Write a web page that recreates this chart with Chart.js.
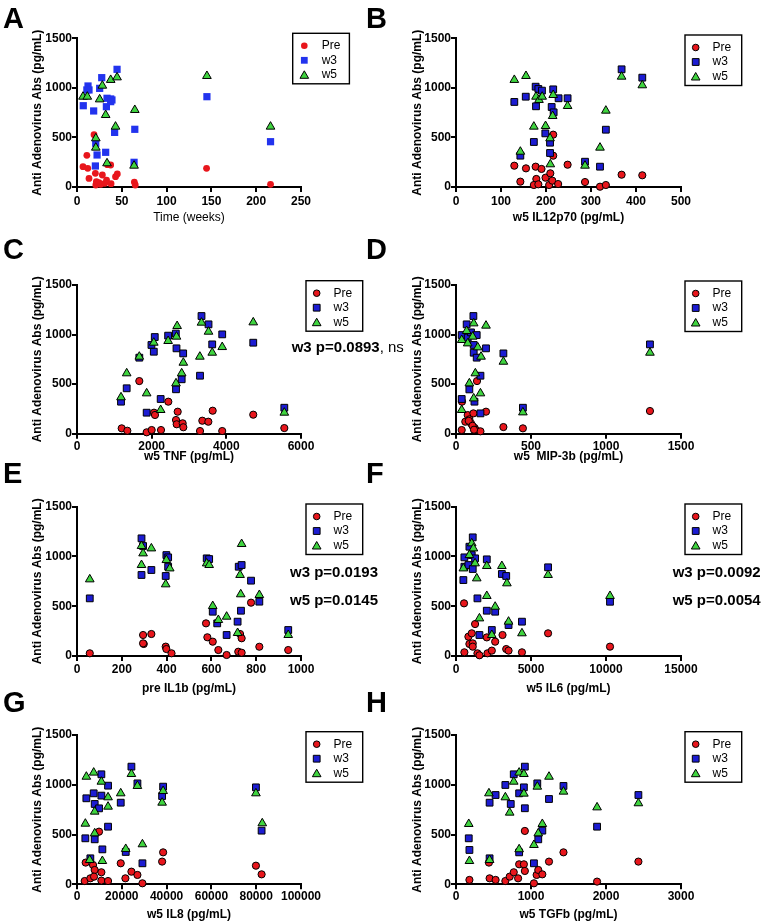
<!DOCTYPE html>
<html>
<head>
<meta charset="utf-8">
<title>Anti Adenovirus Abs</title>
<script src="https://cdn.jsdelivr.net/npm/chart.js@4.4.1/dist/chart.umd.min.js"></script>
<style>
  html, body { margin: 0; padding: 0; background: #fff; }
  body { width: 761px; height: 924px; position: relative; overflow: hidden; font-family: "Liberation Sans", Arial, sans-serif; color: #000; }
  canvas { position: absolute; }
  .letter { position: absolute; font-size: 29px; font-weight: bold; line-height: 29px; }
  .pval { position: absolute; font-size: 15px; font-weight: bold; line-height: 15px; white-space: nowrap; z-index: 2; }
  .pval span { font-weight: normal; }
</style>
</head>
<body>
<div id="fig"></div>
<div class="letter" style="left:3px;top:3.5px">A</div>
<div class="letter" style="left:366px;top:3.5px">B</div>
<div class="letter" style="left:3px;top:234.5px">C</div>
<div class="letter" style="left:366px;top:234.5px">D</div>
<div class="letter" style="left:3px;top:458.5px">E</div>
<div class="letter" style="left:366px;top:458.5px">F</div>
<div class="letter" style="left:3px;top:687.5px">G</div>
<div class="letter" style="left:366px;top:687.5px">H</div>
<div class="pval" style="left:291.7px;top:339.4px">w3 p=0.0893<span>, ns</span></div>
<div class="pval" style="left:290px;top:564.4px">w3 p=0.0193</div>
<div class="pval" style="left:290px;top:591.7px">w5 p=0.0145</div>
<div class="pval" style="left:672.7px;top:564.4px">w3 p=0.0092</div>
<div class="pval" style="left:672.7px;top:591.7px">w5 p=0.0054</div>
<script>
// dane: [x, Anti Adenovirus Abs]
const seriesNames = ['Pre', 'w3', 'w5'];
const yTicks = [0, 500, 1000, 1500];

// A - Time (weeks)
const aPre = [[6.7,205],[11,320],[12,188],[13.4,87],[19,528],[20.5,138],[21,20],[21.6,54],[24.6,44],[26.5,27],[28.3,121],[31,37],[33,70],[34,225],[37.6,222],[38,34],[43,104],[45,131],[64,50],[65,20],[144.6,188],[216,27]];
const aW3 = [[7,820],[11,979],[12.3,1019],[13.4,979],[18.6,767],[20.9,441],[20.5,212],[22.4,323],[25.3,995],[27.6,1103],[32,350],[32.8,810],[33.5,895],[37.6,888],[39,878],[37.6,861],[42,551],[44.7,1187],[64.5,582],[63.7,249],[145,911],[216,457]];
const aW5 = [[6.7,911],[11.5,911],[21,491],[21,397],[25.3,884],[28.3,1022],[32,726],[33.5,239],[37.6,1080],[44.7,1106],[43,609],[64.5,777],[63.7,215],[145,1120],[216,609]];

// B - w5 IL12p70
const bPre = [[129.6,215],[143,54],[155.5,188],[177,205],[178.5,81],[173,20],[183,27],[190,182],[199,94],[209.6,138],[207,20],[214,64],[216,528],[216,316],[227,30],[248,225],[286.7,50],[320,3],[333,20],[368,124],[414,118]];
const bW3 = [[129.6,858],[155,911],[177,1012],[177.8,814],[183,989],[191,972],[216,985],[228,895],[248,895],[212.6,807],[217,753],[173,454],[198.5,541],[209,447],[209,343],[143,316],[286.7,255],[320,205],[333,578],[368,1187],[414,1103]];
const bW5 = [[129.6,1080],[155.5,1120],[173,609],[177.8,911],[184.4,878],[191.5,911],[199,615],[209,491],[209.6,229],[216,928],[214.8,716],[248,817],[286.7,215],[320,397],[333,770],[368,1113],[414,1026],[143,356]];

// C - w5 TNF
const cPre = [[1197,54],[1348,30],[1669,531],[1866,14],[2000,37],[2063,212],[2089,189],[2250,37],[2446,323],[2697,222],[2652,138],[2670,95],[2830,105],[2848,65],[3295,27],[3357,131],[3518,121],[3634,232],[3890,27],[4721,192],[5553,57]];
const cW3 = [[1179,323],[1331,458],[1669,767],[1866,212],[1994,895],[2057,827],[2083,975],[2241,350],[2441,989],[2647,1010],[2665,861],[2652,448],[2804,549],[2844,810],[3295,585],[3335,1187],[3523,1103],[3622,901],[3890,1002],[4721,918],[5553,262]];
const cW5 = [[1179,367],[1331,609],[1669,777],[1866,407],[2057,918],[2241,239],[2441,935],[2682,1086],[2665,979],[2848,716],[2804,609],[2652,508],[3291,777],[3335,1120],[3523,1029],[3622,817],[3890,874],[4721,1123],[5553,212]];

// D - w5 MIP-3b
const dPre = [[38,37],[40,323],[62,121],[78,188],[89,145],[100,104],[116,205],[140,531],[123,60],[134,37],[163,24],[200,222],[316,67],[446,54],[1293,229],[85,130],[110,80],[120,40]];
const dW3 = [[38,350],[38,995],[71,1103],[89,447],[78,969],[116,1187],[100,1022],[118,895],[138,995],[118,817],[138,767],[123,323],[163,585],[163,205],[200,861],[316,810],[446,262],[1293,901]];
const dW5 = [[38,239],[38,945],[71,1036],[89,508],[78,911],[118,1113],[129,609],[118,356],[145,871],[163,407],[167,777],[200,1090],[316,726],[446,215],[1293,817],[111,979]];

// E - pre IL1b
const ePre = [[57,27],[295,211],[298,121],[295,127],[332,221],[396,94],[399,70],[422,27],[576,328],[582,188],[606,144],[631,60],[668,10],[720,43],[728,221],[735,178],[735,33],[777,536],[814,93],[943,60]];
const eW3 = [[57,579],[288,1182],[295,1105],[288,814],[332,864],[399,1014],[407,991],[407,897],[396,804],[579,981],[590,974],[606,445],[626,328],[668,211],[717,345],[722,897],[735,914],[732,455],[777,757],[814,546],[943,261]];
const eW5 = [[57,770],[288,1105],[295,1031],[288,914],[332,1081],[399,964],[396,720],[414,880],[579,930],[590,914],[606,502],[631,362],[668,395],[717,231],[728,814],[735,1125],[731,620],[814,613],[943,211]];

// F - w5 IL6
const fPre = [[536,529],[558,37],[826,194],[893,121],[1049,228],[1116,127],[1116,94],[1272,321],[1429,27],[1562,7],[2053,187],[2098,27],[2388,54],[2611,144],[3102,211],[3348,70],[3504,54],[4397,37],[6138,228],[10267,94]];
const fW3 = [[491,763],[558,897],[558,991],[826,914],[893,1098],[1116,1192],[1049,1014],[1116,874],[1272,981],[1429,579],[1562,211],[2053,971],[2053,455],[2388,261],[2611,445],[3058,824],[3348,804],[3504,311],[4397,345],[6138,891],[10267,545]];
const fW5 = [[491,880],[1049,1132],[1161,1081],[1272,931],[1384,780],[1562,378],[2053,904],[2053,603],[2388,211],[2611,495],[3058,904],[3393,730],[3504,345],[4397,228],[6138,814],[10267,603],[893,1014]];

// G - w5 IL8
const gPre = [[3428,33],[3875,218],[5961,60],[7153,194],[7898,144],[7600,77],[9836,529],[10879,121],[10879,37],[13860,33],[19523,211],[21609,60],[24292,127],[26974,94],[29210,10],[38003,228],[38450,321],[79880,187],[82413,100]];
const gW3 = [[3726,462],[4173,864],[5961,261],[7451,914],[7898,807],[7898,452],[9836,763],[10879,1105],[10879,891],[11326,351],[13860,991],[13860,579],[19523,820],[21757,325],[24292,1182],[26974,1014],[29210,211],[38003,887],[38450,981],[79880,974],[82413,539]];
const gW5 = [[3726,609],[4173,1081],[7451,1122],[7898,730],[7898,512],[10879,1031],[11326,234],[13860,874],[13860,780],[19523,914],[21757,355],[24292,1108],[26974,988],[29210,402],[38003,820],[38450,937],[79880,914],[82711,613],[5663,244]];

// H - w5 TGFb
const hPre = [[179,44],[439,218],[448,60],[528,44],[658,33],[716,77],[770,121],[828,60],[842,201],[905,201],[918,134],[918,536],[1039,10],[1075,94],[1097,144],[1151,100],[1240,228],[1433,321],[1881,27],[2432,228]];
const hW3 = [[170,462],[179,345],[448,820],[448,261],[528,897],[658,998],[730,807],[770,1105],[842,914],[842,321],[905,974],[918,1182],[918,764],[1039,211],[1084,1014],[1097,452],[1151,539],[1240,857],[1433,988],[1881,579],[2432,897]];
const hW5 = [[170,606],[179,234],[439,914],[448,244],[658,874],[716,720],[770,1031],[842,1122],[842,352],[905,1108],[905,911],[1084,981],[1039,395],[1097,512],[1151,606],[1240,1081],[1433,931],[1881,773],[2432,814]];

// osie X: tytuly i zakresy
const xTitles = ['Time (weeks)', 'w5 IL12p70 (pg/mL)', 'w5 TNF (pg/mL)', 'w5  MIP-3b (pg/mL)', 'pre IL1b (pg/mL)', 'w5 IL6 (pg/mL)', 'w5 IL8 (pg/mL)', 'w5 TGFb (pg/mL)'];
const xMaxes = [250, 500, 6000, 1500, 1000, 15000, 100000, 3000];
const xSteps = [50, 100, 2000, 500, 200, 5000, 20000, 1000];

const RED = '#e8161c', BLUE = '#1c1cd2', GREEN = '#3fd43f';

Chart.defaults.font.family = '"Liberation Sans", Arial, sans-serif';
Chart.defaults.color = '#000';

// uklad: wiersze i kolumny (px w oknie)
const ROWS = [
  { top: 26, chartTop: 38.3, chartBottom: 187, titleY: 218, tickPad: 2 },
  { top: 272, chartTop: 285, chartBottom: 433.7, titleY: 456.7, tickPad: 1 },
  { top: 495, chartTop: 506.7, chartBottom: 656, titleY: 688.3, tickPad: 1 },
  { top: 724, chartTop: 735, chartBottom: 884.3, titleY: 915, tickPad: 0 }
];
const COLS = [
  { x0: 0, w: 380, left: 77, right: 301, yTitlePad: 30.6, legendX: 306 },
  { x0: 380, w: 381, left: 456, right: 681, yTitlePad: 30, legendX: 685 }
];
const legendTops = [33.3, 35, 280.7, 281, 504, 504, 731.7, 731.7];

function drawMarker(ctx, shape, r, x, y, fill, bw) {
  ctx.beginPath();
  if (shape === 'circle') {
    ctx.arc(x, y, r, 0, Math.PI * 2);
  } else if (shape === 'rect') {
    const s = r * Math.SQRT1_2;
    ctx.rect(x - s, y - s, 2 * s, 2 * s);
  } else {
    for (let k = 0; k < 3; k++) {
      const a = k * 2 * Math.PI / 3;
      const px = x + Math.sin(a) * r, py = y - Math.cos(a) * r;
      if (k === 0) ctx.moveTo(px, py); else ctx.lineTo(px, py);
    }
    ctx.closePath();
  }
  ctx.fillStyle = fill;
  ctx.fill();
  if (bw) { ctx.lineWidth = bw; ctx.strokeStyle = '#000'; ctx.stroke(); }
}

// legenda w ramce, rysowana na kanwie wykresu
const boxLegend = {
  id: 'boxLegend',
  afterDraw(chart, args, opts) {
    const ctx = chart.ctx;
    ctx.save();
    ctx.lineWidth = 1.4;
    ctx.strokeStyle = '#000';
    ctx.strokeRect(opts.x, opts.y, 56.7, 50.5);
    const rows = [12.5, 27, 41.5];
    chart.data.datasets.forEach((ds, i) => {
      const yy = opts.y + rows[i];
      const r = ds.pointStyle === 'circle' ? 3.3 : ds.pointStyle === 'rect' ? 4.8 : 5;
      drawMarker(ctx, ds.pointStyle, r, opts.x + opts.mx, yy + (ds.pointStyle === 'triangle' ? 1 : 0), ds.backgroundColor, ds.borderWidth);
      ctx.fillStyle = '#000';
      ctx.font = '12px "Liberation Sans", Arial, sans-serif';
      ctx.textBaseline = 'middle';
      ctx.textAlign = 'left';
      ctx.fillText(ds.label, opts.x + opts.tx, yy);
    });
    ctx.restore();
  }
};

function toXY(arr) {
  return arr.map(([x, y]) => ({ x, y }));
}

function buildPanel(idx, series) {
  const col = COLS[idx % 2];
  const row = ROWS[Math.floor(idx / 2)];
  const flat = idx === 0; // panel A: bez obwodek kolek i kwadratow
  const bottomEdge = row.titleY + 7.2 - row.top;
  const h = Math.ceil(bottomEdge);

  const cv = document.createElement('canvas');
  cv.width = col.w;
  cv.height = h;
  cv.style.left = col.x0 + 'px';
  cv.style.top = row.top + 'px';
  document.getElementById('fig').appendChild(cv);

  const styles = [
    { pointStyle: 'circle', color: RED, r: flat ? 3.4 : 3.6, bw: flat ? 0 : 1, order: 3 },
    { pointStyle: 'rect', color: flat ? '#2233ee' : BLUE, r: flat ? 5.1 : 4.8, bw: flat ? 0 : 1, order: 2 },
    { pointStyle: 'triangle', color: GREEN, r: 5, bw: 1, order: 1 }
  ];

  const datasets = series.map((s, i) => ({
    label: seriesNames[i],
    data: toXY(s),
    pointStyle: styles[i].pointStyle,
    pointRadius: styles[i].r,
    backgroundColor: styles[i].color,
    pointBackgroundColor: styles[i].color,
    borderColor: '#000',
    pointBorderColor: '#000',
    borderWidth: styles[i].bw,
    pointBorderWidth: styles[i].bw,
    order: styles[i].order,
    clip: false
  }));

  const axisCommon = {
    type: 'linear',
    min: 0,
    border: { display: true, color: '#000', width: 2 },
    grid: { display: true, drawOnChartArea: false, drawTicks: true, tickLength: 5, tickWidth: 2, tickColor: '#000', color: '#000', lineWidth: 2 }
  };

  new Chart(cv, {
    type: 'scatter',
    data: { datasets },
    options: {
      responsive: false,
      animation: false,
      events: [],
      layout: {
        padding: {
          left: 0,
          top: row.chartTop - row.top,
          right: col.x0 + col.w - col.right,
          bottom: h - bottomEdge
        }
      },
      plugins: {
        legend: { display: false },
        tooltip: { enabled: false },
        boxLegend: {
          x: (idx === 0 ? 292.7 : col.legendX) - col.x0,
          y: legendTops[idx] - row.top,
          mx: idx === 0 ? 11.6 : 10.7,
          tx: idx === 0 ? 29 : 27.5
        }
      },
      scales: {
        x: Object.assign({}, axisCommon, {
          position: 'bottom',
          max: xMaxes[idx],
          ticks: {
            stepSize: xSteps[idx], autoSkip: false, maxRotation: 0, padding: row.tickPad,
            font: { size: 12, weight: 'bold' }, color: '#000',
            callback: v => String(v)
          },
          title: {
            display: true, text: xTitles[idx], padding: 0, color: '#000',
            font: { size: 12, weight: flat ? 'normal' : 'bold' }
          },
          afterFit: s => { s.height = row.titleY + 7.2 - row.chartBottom; }
        }),
        y: Object.assign({}, axisCommon, {
          position: 'left',
          max: 1500,
          afterBuildTicks: s => { s.ticks = yTicks.map(v => ({ value: v })); },
          ticks: {
            autoSkip: false, padding: 0,
            font: { size: 12, weight: 'bold' }, color: '#000',
            callback: v => String(v)
          },
          title: {
            display: true, text: 'Anti Adenovirus Abs (pg/mL)', color: '#000',
            padding: { top: col.yTitlePad, bottom: 0 },
            font: { size: 12, weight: 'bold' }
          },
          afterFit: s => { s.width = col.left - col.x0; }
        })
      }
    },
    plugins: [boxLegend]
  });
}

window.onload = function() {
  const all = [
    [aPre, aW3, aW5], [bPre, bW3, bW5],
    [cPre, cW3, cW5], [dPre, dW3, dW5],
    [ePre, eW3, eW5], [fPre, fW3, fW5],
    [gPre, gW3, gW5], [hPre, hW3, hW5]
  ];
  all.forEach((s, i) => buildPanel(i, s));
};
</script>
</body>
</html>
